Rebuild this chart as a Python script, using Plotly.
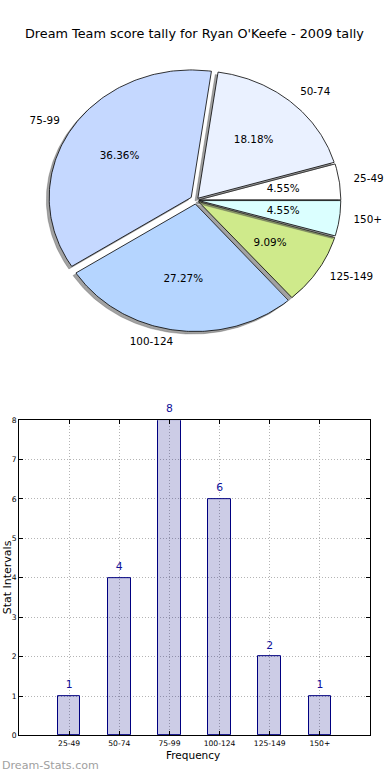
import numpy as np
import plotly.graph_objects as go

# ---------------- data ----------------
categories = ["25-49", "50-74", "75-99", "100-124", "125-149", "150+"]
counts = [1, 4, 8, 6, 2, 1]
slice_colors = ["#ffffff", "#eaf1ff", "#c5d8ff", "#b5d5ff", "#cfea8b", "#dbffff"]
explode = [0.02, 0.02, 0.04, 0.03, 0.02, 0.02]
y_ticks = [0, 1, 2, 3, 4, 5, 6, 7, 8]
title_text = "Dream Team score tally for Ryan O'Keefe - 2009 tally"

W, H = 390, 780
FONT = "DejaVu Sans"

fig = go.Figure()

# ---------------- pie (matplotlib-style, elliptical axes) ----------------
total = float(sum(counts))
theta = 0.0
shadow_off = 0.02
for cat, v, col, ex in zip(categories, counts, slice_colors, explode):
    frac = v / total
    t1, t2 = theta, theta + 360.0 * frac
    mid = np.deg2rad((t1 + t2) / 2)
    cx, cy = ex * np.cos(mid), ex * np.sin(mid)
    ang = np.deg2rad(np.linspace(t1, t2, 120))
    xs = np.concatenate([[cx], cx + np.cos(ang), [cx]])
    ys = np.concatenate([[cy], cy + np.sin(ang), [cy]])
    # shadow
    fig.add_trace(go.Scatter(x=xs - shadow_off, y=ys - shadow_off, mode="lines",
                             fill="toself", fillcolor="rgba(70,70,70,0.5)",
                             line=dict(color="rgba(70,70,70,0.5)", width=0.6),
                             xaxis="x2", yaxis="y2", hoverinfo="skip", showlegend=False))
    # wedge
    fig.add_trace(go.Scatter(x=xs, y=ys, mode="lines", fill="toself", fillcolor=col,
                             line=dict(color="black", width=0.8),
                             xaxis="x2", yaxis="y2", hoverinfo="skip", showlegend=False))
    # percentage text
    fig.add_trace(go.Scatter(x=[cx + 0.6 * np.cos(mid)], y=[cy + 0.6 * np.sin(mid)],
                             mode="text", text=["%1.2f%%" % (100 * frac)],
                             textposition="middle center",
                             textfont=dict(family=FONT, size=10.4, color="black"),
                             xaxis="x2", yaxis="y2", hoverinfo="skip", showlegend=False))
    # label
    lx, ly = cx + 1.1 * np.cos(mid), cy + 1.1 * np.sin(mid)
    fig.add_trace(go.Scatter(x=[lx], y=[ly], mode="text", text=[cat],
                             textposition="middle right" if lx > 0 else "middle left",
                             textfont=dict(family=FONT, size=10.4, color="black"),
                             xaxis="x2", yaxis="y2", hoverinfo="skip", showlegend=False))
    theta = t2

# ---------------- bar chart ----------------
xpos = list(range(1, len(categories) + 1))
fig.add_trace(go.Bar(x=xpos, y=counts, width=0.45,
                     marker=dict(color="rgba(0,0,128,0.2)",
                                 line=dict(color="#000080", width=1)),
                     hoverinfo="skip", showlegend=False, xaxis="x", yaxis="y"))
fig.add_trace(go.Scatter(x=xpos, y=counts, mode="markers+text",
                         text=[str(c) for c in counts],
                         marker=dict(size=7, color="rgba(0,0,0,0)"),
                         textposition="top center",
                         textfont=dict(family=FONT, size=10.8, color="#10109a"),
                         cliponaxis=False, hoverinfo="skip", showlegend=False,
                         xaxis="x", yaxis="y"))

cx0, cx1 = 196.0, 142.0  # pie centre px, x scale px/unit
cy0, cy1 = 198.5, 129.0
py_top, py_bot = 40, 370

axis_common = dict(showline=True, linecolor="black", linewidth=1, mirror="ticks",
                   ticks="inside", ticklen=4, tickcolor="black",
                   showgrid=True, gridcolor="#b4b4b4", griddash="1px,2px", gridwidth=1,
                   zeroline=False, tickfont=dict(family=FONT, size=7.6, color="black"))

fig.update_layout(
    width=W, height=H, margin=dict(l=0, r=0, t=0, b=0), autosize=False,
    paper_bgcolor="white", plot_bgcolor="white",
    bargap=0, showlegend=False,
    xaxis=dict(domain=[19 / W, 370 / W], range=[0, 7], tickvals=xpos, ticktext=categories,
               **axis_common),
    yaxis=dict(domain=[1 - 740 / H, 1 - 421 / H], range=[0, 8], tickvals=y_ticks,
               **axis_common),
    xaxis2=dict(domain=[0, 1], range=[-cx0 / cx1, (W - cx0) / cx1], visible=False,
                fixedrange=True),
    yaxis2=dict(domain=[1 - py_bot / H, 1 - py_top / H],
                range=[(cy0 - py_bot) / cy1, (cy0 - py_top) / cy1], visible=False,
                fixedrange=True),
    annotations=[
        dict(text=title_text, x=194 / W, y=1 - 30 / H, xref="paper", yref="paper",
             showarrow=False, font=dict(family=FONT, size=12.8, color="black"),
             xanchor="center", yanchor="middle"),
        dict(text="Frequency", x=193 / W, y=1 - 760 / H, xref="paper", yref="paper",
             showarrow=False, font=dict(family=FONT, size=10.5, color="black"),
             xanchor="center", yanchor="middle"),
        dict(text="Stat Intervals", x=7 / W, y=1 - 580 / H, xref="paper", yref="paper",
             showarrow=False, textangle=-90, font=dict(family=FONT, size=11, color="black"),
             xanchor="center", yanchor="middle"),
        dict(text="Dream-Stats.com", x=0, y=1 - 770 / H, xref="paper", yref="paper",
             showarrow=False, font=dict(family=FONT, size=11.1, color="#a0a0a0"),
             xanchor="left", yanchor="middle"),
    ],
)

post = (
    "document.documentElement.style.margin='0';"
    "document.documentElement.style.overflow='hidden';"
    "document.body.style.margin='0';"
    "document.body.style.overflow='hidden';"
    "var gd=document.getElementById('{plot_id}');"
    "gd.style.position='fixed';gd.style.left='0px';gd.style.top='0px';"
)
fig.write_html("out.html", config={"displayModeBar": False, "responsive": False},
               post_script=post)
